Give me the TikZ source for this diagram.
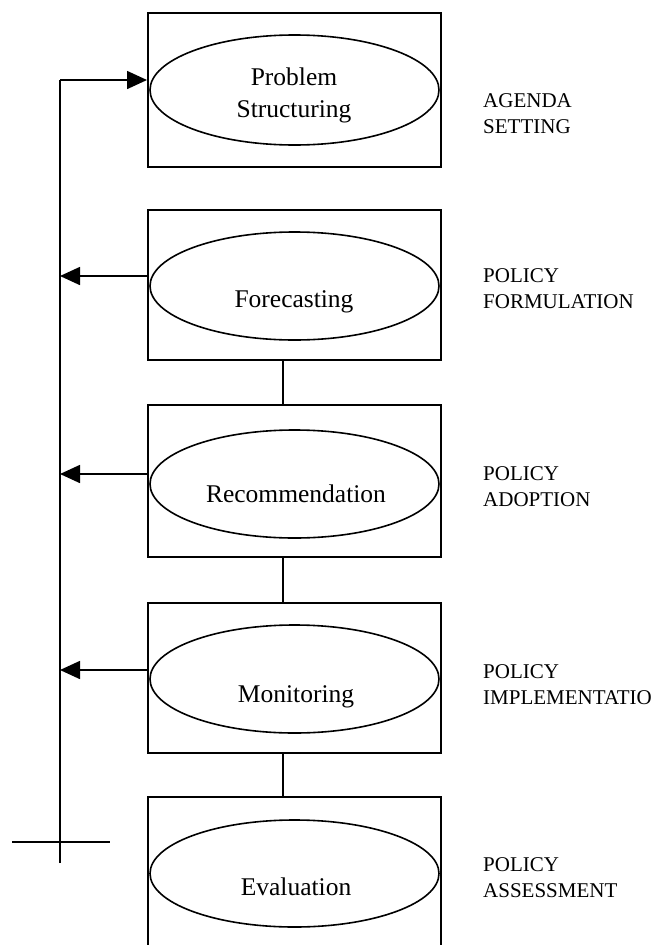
\documentclass[tikz,border=0pt]{standalone}
\usepackage{fontspec}
\setmainfont{Liberation Serif}
\usetikzlibrary{arrows.meta,shapes.geometric}
\begin{document}
\begin{tikzpicture}[x=1pt,y=-1pt,
  stagebox/.style={draw,rectangle,line width=2pt,minimum width=293pt,inner sep=0pt},
  stageoval/.style={draw,ellipse,line width=1.6pt,minimum width=289pt,minimum height=108pt,inner sep=0pt},
  stagetext/.style={font=\fontsize{25.5}{32}\selectfont,anchor=base,inner sep=0pt},
  phase/.style={font=\fontsize{21}{26.5}\selectfont,align=left,anchor=west,inner sep=0pt},
  link/.style={line width=1.8pt},
  fb/.style={line width=1.6pt,-{Triangle[length=20pt,width=18pt]}}
]
\useasboundingbox (0,0) rectangle (658,945);
% boxes
\node[stagebox,minimum height=154pt] (B1) at (294.5,90) {};
\node[stagebox,minimum height=150pt] (B2) at (294.5,285) {};
\node[stagebox,minimum height=152pt] (B3) at (294.5,481) {};
\node[stagebox,minimum height=150pt] (B4) at (294.5,678) {};
\node[stagebox,minimum height=170pt] (B5) at (294.5,882) {};
% ellipses
\node[stageoval,minimum height=110pt] (E1) at (294.5,90) {};
\node[stageoval] (E2) at (294.5,286) {};
\node[stageoval] (E3) at (294.5,484) {};
\node[stageoval] (E4) at (294.5,679) {};
\node[stageoval,minimum height=107pt] (E5) at (294.5,873.5) {};
% texts
\node[font=\fontsize{25.5}{32}\selectfont,align=center,inner sep=0pt] (T1) at (294,95) {Problem\\Structuring};
\node[stagetext] (T2) at (294,307) {Forecasting};
\node[stagetext] (T3) at (296,502) {Recommendation};
\node[stagetext] (T4) at (296,702) {Monitoring};
\node[stagetext] (T5) at (296,895) {Evaluation};
% connectors between boxes
\draw[link] (B2.south -| 283,0) coordinate (c2) -- (c2 |- B3.north);
\draw[link] (B3.south -| 283,0) coordinate (c3) -- (c3 |- B4.north);
\draw[link] (B4.south -| 283,0) coordinate (c4) -- (c4 |- B5.north);
% feedback loop
\coordinate (top) at (60,80);
\coordinate (bot) at (60,863);
\coordinate (a2) at (60,276);
\coordinate (a3) at (60,474);
\coordinate (a4) at (60,670);
\coordinate (crossL) at (12,842);
\coordinate (crossR) at (110,842);
\draw[link] (bot) -- (top);
\draw[fb] (top) -- (top -| B1.west);
\draw[fb] (E2.west |- a2) -- (a2);
\draw[fb] (E3.west |- a3) -- (a3);
\draw[fb] (E4.west |- a4) -- (a4);
\draw[link] (crossL) -- (crossR);
% phase labels
\node[phase] (P1) at (483,113.5) {AGENDA\\SETTING};
\node[phase] (P2) at (483,288.5) {POLICY\\FORMULATION};
\node[phase] (P3) at (483,486.5) {POLICY\\ADOPTION};
\node[phase] (P4) at (483,684.5) {POLICY\\IMPLEMENTATIO};
\node[phase] (P5) at (483,877.5) {POLICY\\ASSESSMENT};
\end{tikzpicture}
\end{document}
